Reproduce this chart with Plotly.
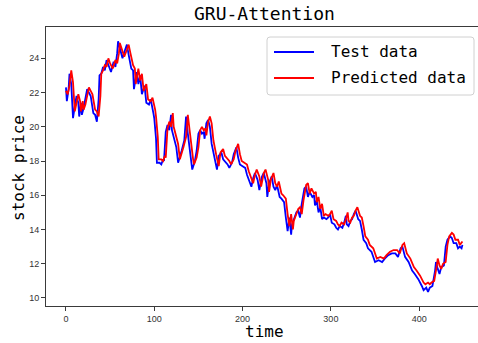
import plotly.graph_objects as go

# ---- data ----
test_time = [0, 1, 3, 4, 6, 8, 10, 12, 14, 15, 17, 18, 20, 22, 24, 26, 28, 31, 33, 35, 37, 38, 40, 42, 44, 46, 48, 51, 54, 56, 58, 59, 61, 64, 67, 69, 71, 74, 76, 77, 80, 82, 84, 86, 89, 91, 94, 96, 99, 100, 102, 103, 106, 108, 110, 111, 113, 115, 117, 119, 120, 122, 125, 127, 129, 131, 134, 136, 138, 140, 142, 143, 146, 148, 150, 152, 154, 156, 157, 159, 161, 163, 165, 168, 170, 171, 173, 176, 178, 180, 183, 185, 188, 190, 193, 195, 197, 200, 203, 205, 208, 210, 212, 214, 217, 219, 222, 224, 227, 228, 230, 233, 235, 237, 239, 242, 244, 247, 249, 251, 253, 255, 256, 258, 261, 263, 265, 267, 270, 272, 274, 276, 279, 281, 282, 284, 286, 288, 290, 292, 295, 297, 299, 301, 304, 306, 308, 310, 313, 315, 317, 318, 320, 322, 324, 326, 328, 331, 333, 335, 337, 340, 342, 346, 350, 354, 358, 361, 365, 369, 373, 376, 379, 381, 384, 388, 392, 395, 399, 403, 405, 408, 410, 412, 415, 418, 419, 421, 423, 425, 428, 430, 432, 435, 437, 439, 442, 444, 446, 448, 449]
test_price = [22.3, 21.5, 22.2, 23.1, 22.5, 20.5, 21.2, 21.8, 21.4, 20.6, 21.4, 20.7, 21.1, 21.8, 22.2, 22.0, 21.8, 20.8, 20.7, 20.3, 21.6, 23.0, 23.1, 23.5, 23.3, 23.9, 23.6, 23.2, 23.8, 23.5, 24.3, 25.0, 24.6, 24.0, 24.5, 24.8, 24.2, 23.4, 23.3, 22.2, 23.2, 22.5, 23.0, 21.9, 22.4, 21.4, 21.3, 21.6, 20.8, 20.5, 19.3, 17.9, 17.9, 17.8, 18.1, 18.0, 19.7, 20.1, 19.8, 20.7, 19.8, 19.4, 18.8, 17.9, 18.2, 18.6, 19.2, 20.6, 19.6, 18.6, 17.9, 17.5, 18.0, 18.6, 19.6, 19.8, 19.6, 19.7, 19.3, 20.2, 20.4, 20.0, 19.0, 18.2, 17.6, 17.5, 18.3, 18.5, 18.1, 18.0, 17.8, 17.6, 17.9, 18.4, 18.8, 18.2, 17.8, 17.7, 17.6, 17.2, 16.8, 16.5, 17.0, 17.3, 16.9, 16.3, 17.1, 17.3, 16.7, 15.9, 16.7, 17.1, 16.5, 16.3, 16.6, 15.9, 15.8, 15.6, 14.7, 13.9, 14.7, 13.7, 14.3, 14.6, 15.0, 15.1, 14.7, 15.5, 16.4, 16.5, 15.9, 16.2, 15.9, 16.0, 15.4, 15.7, 15.0, 15.3, 14.6, 14.7, 14.6, 14.7, 14.9, 14.4, 14.3, 14.1, 14.0, 14.2, 14.1, 14.4, 14.8, 14.3, 14.2, 14.5, 14.6, 14.9, 15.1, 14.6, 14.5, 14.0, 13.4, 13.2, 12.9, 12.7, 12.1, 12.2, 12.1, 12.3, 12.5, 12.6, 12.6, 12.4, 12.9, 13.0, 12.4, 12.1, 11.6, 11.4, 11.1, 10.7, 10.45, 10.6, 10.35, 10.6, 10.7, 11.6, 12.1, 11.7, 11.4, 11.8, 11.9, 13.0, 13.4, 13.6, 13.5, 13.2, 13.2, 12.9, 13.0, 12.9, 13.1]

pred_time = [0, 2, 4, 6, 8, 10, 12, 14, 16, 17, 19, 20, 22, 24, 26, 28, 30, 33, 35, 37, 39, 40, 42, 44, 46, 48, 50, 53, 56, 58, 60, 61, 63, 66, 69, 71, 73, 76, 78, 79, 82, 84, 86, 88, 91, 93, 96, 98, 101, 102, 104, 105, 108, 110, 112, 113, 115, 117, 119, 121, 122, 124, 127, 129, 131, 133, 136, 138, 140, 142, 144, 145, 148, 150, 152, 154, 156, 158, 159, 161, 163, 165, 167, 170, 172, 173, 175, 178, 180, 182, 185, 187, 190, 192, 195, 197, 199, 202, 205, 207, 210, 212, 214, 216, 219, 221, 224, 226, 229, 230, 232, 235, 237, 239, 241, 244, 246, 249, 251, 253, 255, 257, 258, 260, 263, 265, 267, 269, 272, 274, 276, 278, 281, 283, 284, 286, 288, 290, 292, 294, 297, 299, 301, 303, 306, 308, 310, 312, 315, 317, 319, 320, 322, 324, 326, 328, 330, 333, 335, 337, 339, 342, 344, 348, 352, 356, 360, 363, 367, 371, 375, 378, 381, 383, 386, 390, 394, 397, 401, 405, 407, 410, 412, 414, 417, 420, 421, 423, 425, 427, 430, 432, 434, 437, 439, 441, 444, 446, 448, 449]
pred_price = [22.1, 21.9, 22.4, 23.3, 22.6, 20.9, 21.4, 21.9, 21.5, 20.9, 21.5, 21.0, 21.3, 21.9, 22.3, 22.1, 21.9, 21.0, 20.9, 20.6, 21.8, 23.1, 23.3, 23.6, 23.5, 24.0, 23.7, 23.4, 23.9, 23.7, 24.3, 24.9, 24.6, 24.1, 24.5, 24.8, 24.3, 23.6, 23.4, 22.5, 23.4, 22.7, 23.1, 22.1, 22.5, 21.6, 21.5, 21.7, 21.0, 20.6, 19.4, 18.1, 18.1, 18.0, 18.3, 18.2, 19.9, 20.3, 20.0, 20.8, 20.0, 19.6, 19.0, 18.1, 18.4, 18.8, 19.4, 20.7, 19.8, 18.8, 18.1, 17.8, 18.2, 18.8, 19.8, 20.0, 19.8, 19.9, 19.5, 20.3, 20.6, 20.2, 19.2, 18.4, 17.8, 17.7, 18.5, 18.7, 18.3, 18.2, 18.0, 17.8, 18.1, 18.6, 19.0, 18.4, 18.0, 17.9, 17.8, 17.4, 17.0, 16.7, 17.2, 17.5, 17.1, 16.5, 17.3, 17.5, 16.9, 16.2, 16.9, 17.3, 16.7, 16.5, 16.8, 16.1, 16.0, 15.8, 14.9, 14.2, 14.9, 14.0, 14.5, 14.8, 15.2, 15.3, 14.9, 15.7, 16.6, 16.7, 16.1, 16.4, 16.1, 16.2, 15.6, 15.9, 15.2, 15.5, 14.8, 14.9, 14.8, 14.9, 15.1, 14.6, 14.5, 14.3, 14.2, 14.4, 14.3, 14.6, 15.0, 14.5, 14.4, 14.7, 14.8, 15.1, 15.3, 14.8, 14.7, 14.2, 13.6, 13.4, 13.1, 12.9, 12.3, 12.4, 12.3, 12.5, 12.7, 12.8, 12.8, 12.6, 13.1, 13.2, 12.6, 12.3, 11.8, 11.6, 11.3, 10.9, 10.8, 10.9, 10.8, 10.9, 11.0, 11.9, 12.3, 11.9, 11.7, 12.0, 12.1, 13.1, 13.6, 13.8, 13.7, 13.4, 13.4, 13.1, 13.2, 13.3]

x_ticks = [0, 100, 200, 300, 400]
y_ticks = [10, 12, 14, 16, 18, 20, 22, 24]
series_names = ["Test data", "Predicted data"]
series_colors = ["#0000ff", "#ff0000"]
title_text = "GRU-Attention"
x_label = "time"
y_label = "stock price"

# ---- layout geometry (pixels) ----
W, H = 478, 343
ML, MT, MB = 46, 27, 37
PW = W - ML
PH = H - MT - MB
AX_RIGHT_PX = 483  # axes extend slightly past the picture edge


def px(x):
    return (x - ML) / PW


def py(y):
    return (H - MB - y) / PH


mono = "DejaVu Sans Mono"
LW = 1.8

fig = go.Figure()
fig.add_trace(go.Scatter(x=test_time, y=test_price, mode="lines", name=series_names[0],
                         line=dict(color=series_colors[0], width=LW), showlegend=False))
fig.add_trace(go.Scatter(x=pred_time, y=pred_price, mode="lines", name=series_names[1],
                         line=dict(color=series_colors[1], width=LW), showlegend=False))

axis_common = dict(showgrid=False, zeroline=False, showline=True, linecolor="#3a3a3a",
                   linewidth=1, ticks="outside", ticklen=4, tickcolor="#3a3a3a",
                   tickfont=dict(family="Liberation Sans", size=9, color="#333333"))
fig.update_xaxes(range=[-22.6, 466.6], tickvals=x_ticks, mirror=True, **axis_common)
fig.update_yaxes(range=[9.53, 25.83], tickvals=y_ticks, **axis_common)

shapes = []
# legend box (rounded)
x0, x1, y0, y1, r = 267, 474, 37, 95, 3
path = (f"M {px(x0 + r)} {py(y0)} L {px(x1 - r)} {py(y0)} Q {px(x1)} {py(y0)} {px(x1)} {py(y0 + r)} "
        f"L {px(x1)} {py(y1 - r)} Q {px(x1)} {py(y1)} {px(x1 - r)} {py(y1)} "
        f"L {px(x0 + r)} {py(y1)} Q {px(x0)} {py(y1)} {px(x0)} {py(y1 - r)} "
        f"L {px(x0)} {py(y0 + r)} Q {px(x0)} {py(y0)} {px(x0 + r)} {py(y0)} Z")
shapes.append(dict(type="path", xref="paper", yref="paper", path=path,
                   line=dict(color="#d0d0d0", width=1), fillcolor="rgba(255,255,255,0.85)"))
annotations = []
for i, (name, col) in enumerate(zip(series_names, series_colors)):
    ly = 52 + 26 * i
    shapes.append(dict(type="line", xref="paper", yref="paper", x0=px(274), x1=px(314),
                       y0=py(ly), y1=py(ly), line=dict(color=col, width=LW)))
    annotations.append(dict(text=name, xref="paper", yref="paper", x=px(329), y=py(ly),
                            xanchor="left", yanchor="middle", showarrow=False,
                            font=dict(family=mono, size=16, color="black")))

center_x = px((ML + AX_RIGHT_PX) / 2)
annotations.append(dict(text=title_text, xref="paper", yref="paper", x=center_x, y=py(14),
                        xanchor="center", yanchor="middle", showarrow=False,
                        font=dict(family=mono, size=18, color="black")))
annotations.append(dict(text=x_label, xref="paper", yref="paper", x=center_x, y=py(331),
                        xanchor="center", yanchor="middle", showarrow=False,
                        font=dict(family=mono, size=16, color="black")))
annotations.append(dict(text=y_label, xref="paper", yref="paper", x=px(18), y=py(168),
                        xanchor="center", yanchor="middle", showarrow=False, textangle=-90,
                        font=dict(family=mono, size=16, color="black")))

fig.update_layout(width=W, height=H, margin=dict(l=ML, r=0, t=MT, b=MB),
                  plot_bgcolor="white", paper_bgcolor="white",
                  shapes=shapes, annotations=annotations, showlegend=False)

fig.write_html("out.html")
